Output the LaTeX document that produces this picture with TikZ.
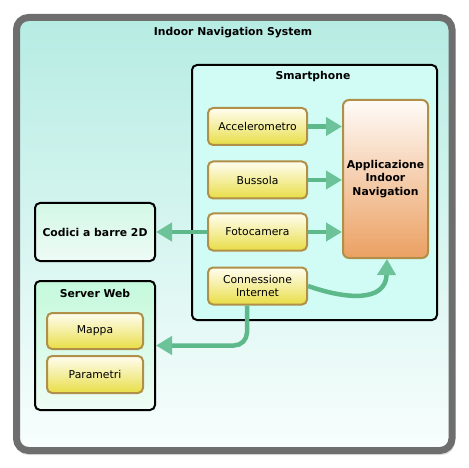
\documentclass[tikz,border=0pt]{standalone}
\usepackage{fontspec}
\setmainfont{DejaVu Sans}
\usetikzlibrary{arrows.meta}
\definecolor{framegray}{HTML}{6E6E6E}
\definecolor{frametop}{HTML}{B6ECE3}
\definecolor{framebot}{HTML}{F8FEFD}
\definecolor{phonefill}{HTML}{D1FCF6}
\definecolor{ytop}{HTML}{FFFDF0}
\definecolor{ymid}{HTML}{F4EE9E}
\definecolor{ybot}{HTML}{E8DD45}
\definecolor{ybord}{HTML}{B09048}
\definecolor{atop}{HTML}{FFFBF8}
\definecolor{amid}{HTML}{F3C7A2}
\definecolor{abot}{HTML}{EBA062}
\definecolor{ctop}{HTML}{D3F8E6}
\definecolor{cbot}{HTML}{EEFBF6}
\definecolor{stop}{HTML}{C4F9DC}
\definecolor{sbot}{HTML}{EFFCF5}
\definecolor{arrgreen}{HTML}{5DB98A}
\definecolor{arrhead}{HTML}{6CC39A}
\tikzset{
  txt/.style={font=\fontsize{10.8}{13.3}\selectfont, align=center, text=black},
  btxt/.style={txt, font=\fontsize{10.8}{13.3}\selectfont\bfseries},
  ybox/.style={txt, draw=ybord, line width=2pt, rounded corners=5pt,
    top color=ytop, bottom color=ybot, middle color=ymid,
    minimum width=99pt, minimum height=37pt, inner sep=0pt},
  kbox/.style={draw=black, line width=2pt, rounded corners=5pt, inner sep=0pt},
  arr/.style={draw=arrgreen, line width=4.5pt,
    -{Triangle[length=16pt,width=18pt,fill=arrhead,color=arrhead]}},
}
\begin{document}
\begin{tikzpicture}[x=1pt,y=-1pt]
\useasboundingbox (0,0) rectangle (469,468);
% shadow
\fill[black, opacity=0.12, rounded corners=13pt] (15,20) rectangle (455,455);
% outer frame
\node[draw=framegray, line width=7pt, rounded corners=12pt,
  top color=frametop, bottom color=framebot, inner sep=0pt,
  minimum width=435.5pt, minimum height=433pt] (frame) at (234.25,234) {};
\node[btxt] (title) at (233,33) {Indoor Navigation System};
% smartphone
\node[kbox, fill=phonefill, minimum width=245pt, minimum height=255pt] (phone) at (314.5,192.5) {};
\node[btxt] (phonet) at (313,77) {Smartphone};
% app
\node[btxt, draw=ybord, line width=2pt, rounded corners=6pt,
  top color=atop, middle color=amid, bottom color=abot,
  minimum width=85pt, minimum height=158pt, inner sep=0pt] (app) at (385.5,179) {Applicazione\\Indoor\\Navigation};
% sensors
\node[ybox] (acc) at (257.5,126.5) {Accelerometro};
\node[ybox] (bus) at (257.5,180) {Bussola};
\node[ybox] (fot) at (257.5,232) {Fotocamera};
\node[ybox] (con) at (257.5,286) {Connessione\\Internet};
% codici
\node[kbox, btxt, top color=ctop, bottom color=cbot,
  minimum width=120pt, minimum height=58pt] (cod) at (95,232) {Codici a barre 2D};
% server web
\node[kbox, top color=stop, bottom color=sbot,
  minimum width=120pt, minimum height=129pt] (srv) at (95,345.5) {};
\node[btxt] (srvt) at (95,293) {Server Web};
\node[ybox, minimum width=96pt, minimum height=36pt] (map) at (95,331) {Mappa};
\node[ybox, minimum width=96pt, minimum height=37pt] (par) at (95,374.5) {Parametri};
% arrows
\draw[arr] (acc.east) -- (acc.east -| app.west);
\draw[arr] (bus.east) -- (bus.east -| app.west);
\draw[arr] (fot.east) -- (fot.east -| app.west);
\draw[arr] (fot.west) -- (cod.east);
\draw[arr] (con.east) .. controls (345,299) and (386,303) .. ([xshift=1.5pt]app.south);
\draw[arr, rounded corners=13pt] ([xshift=-10.5pt]con.south) |- (srv.east);
\end{tikzpicture}
\end{document}
